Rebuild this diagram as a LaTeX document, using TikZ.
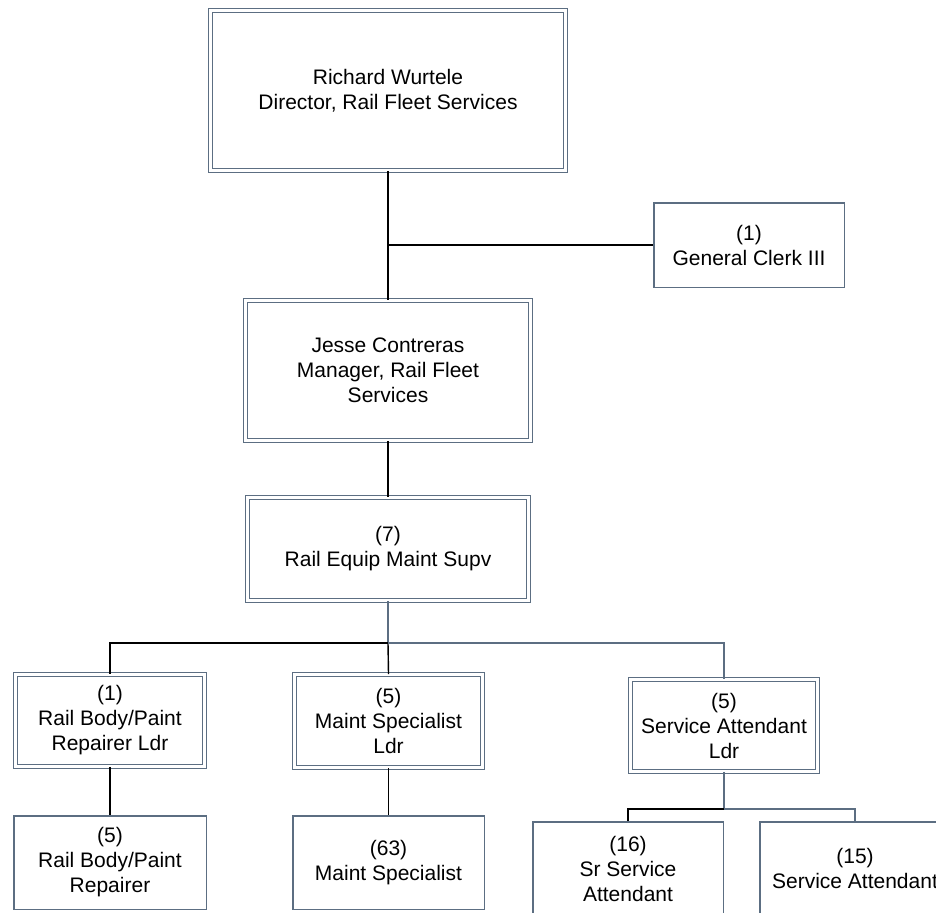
\documentclass[tikz,border=0pt]{standalone}
\usepackage{fontspec}
\setmainfont{Liberation Sans}
\definecolor{boxc}{RGB}{92,110,130}
\tikzset{
  dbox/.style={draw=boxc, double=white, line width=1.3pt, double distance=2.8pt,
    rectangle, inner sep=0pt, align=center, font=\fontsize{21}{25}\selectfont},
  sbox/.style={draw=boxc, line width=1.5pt, rectangle, inner sep=0pt, align=center,
    font=\fontsize{21}{25}\selectfont},
  blk/.style={draw=black, line width=1.4pt},
  gry/.style={draw=boxc, line width=1.5pt},
}
\begin{document}
\begin{tikzpicture}[x=1pt,y=-1pt]
\useasboundingbox (0,0) rectangle (936,912);
\clip (0,0) rectangle (936,912);
\node[dbox, minimum width=354.6pt, minimum height=159.6pt] (dir) at (388,90.5) {Richard Wurtele\\Director, Rail Fleet Services};
\node[sbox, minimum width=190.5pt, minimum height=84.5pt] (clerk) at (749,245) {(1)\\General Clerk III};
\node[dbox, minimum width=284.6pt, minimum height=139.6pt] (mgr) at (388,370.5) {Jesse Contreras\\Manager, Rail Fleet\\Services};
\node[dbox, minimum width=280.6pt, minimum height=102.6pt] (supv) at (388,549) {(7)\\Rail Equip Maint Supv};
\node[dbox, minimum width=188.6pt, minimum height=91.6pt] (l1) at (110,720.5) {(1)\\Rail Body/Paint\\Repairer Ldr};
\node[dbox, minimum width=187.6pt, minimum height=92.6pt] (l2) at (388.5,721) {(5)\\Maint Specialist\\Ldr};
\node[dbox, minimum width=186.6pt, minimum height=91.6pt] (l3) at (724,725.5) {(5)\\Service Attendant\\Ldr};
\node[sbox, minimum width=192.5pt, minimum height=93.5pt] (b1) at (110,862.5) {(5)\\Rail Body/Paint\\Repairer};
\node[sbox, minimum width=191.5pt, minimum height=93.5pt] (b2) at (388.5,862.5) {(63)\\Maint Specialist};
\node[sbox, minimum width=190.5pt, minimum height=93.5pt] (b3) at (628,868.5) {(16)\\Sr Service\\Attendant};
\node[sbox, minimum width=190.5pt, minimum height=93.5pt] (b4) at (855,868.5) {(15)\\Service Attendant};
\coordinate (j1) at (dir.south |- clerk.west);
\coordinate (bus) at (388,643);
\coordinate (busl) at (110,643);
\coordinate (busr) at (724,643);
\coordinate (bus2) at (724,809);
\coordinate (bus2l) at (628,809);
\coordinate (bus2r) at (855,809);
\draw[blk] (dir.south) -- (mgr.north);
\draw[blk] (j1) -- (clerk.west);
\draw[blk] (mgr.south) -- (supv.north);
\draw[gry] (supv.south) -- (bus);
\draw[blk] (bus) -- (busl) -- (l1.north);
\draw[blk] (bus) -- (l2.north);
\draw[gry] (bus) -- (busr) -- (l3.north);
\draw[blk] (l1.south) -- (b1.north);
\draw[blk] (l2.south) -- (b2.north);
\draw[gry] (l3.south) -- (bus2);
\draw[blk] (bus2) -- (bus2l) -- (b3.north);
\draw[gry] (bus2) -- (bus2r) -- (b4.north);
\end{tikzpicture}
\end{document}
